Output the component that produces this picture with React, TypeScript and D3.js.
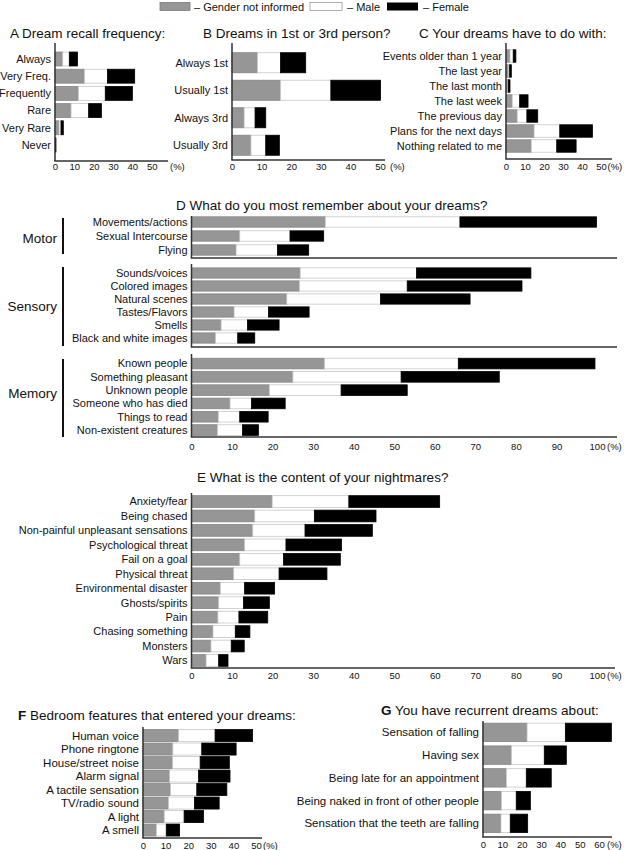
import React, { useEffect, useRef } from 'react';
import * as d3 from 'd3';

const FONT = '"Liberation Sans", Arial, Helvetica, sans-serif';

// A Dream recall frequency
const recallCats = ['Always', 'Very Freq.', 'Frequently', 'Rare', 'Very Rare', 'Never'];
const recallGni = [4.0, 15.2, 12.1, 8.3, 2.1, 0.2];
const recallMale = [3.4, 11.9, 13.9, 9.1, 1.0, 0.1];
const recallFemale = [4.2, 14.1, 14.0, 6.6, 1.2, 0.2];

// B Dreams in 1st or 3rd person
const personCats = ['Always 1st', 'Usually 1st', 'Always 3rd', 'Usually 3rd'];
const personGni = [8.6, 16.4, 4.1, 6.4];
const personMale = [7.8, 17.0, 3.7, 5.0];
const personFemale = [8.5, 16.8, 3.6, 4.6];

// C Your dreams have to do with
const timeCats = ['Events older than 1 year', 'The last year', 'The last month', 'The last week', 'The previous day', 'Plans for the next days', 'Nothing related to me'];
const timeGni = [2.1, 1.4, 0.9, 3.3, 5.9, 14.8, 13.3];
const timeMale = [1.7, 0.5, 0.3, 3.9, 5.1, 13.5, 13.4];
const timeFemale = [1.4, 0.9, 0.9, 4.4, 5.7, 17.2, 10.2];

// D What do you most remember
const motorCats = ['Movements/actions', 'Sexual Intercourse', 'Flying'];
const motorGni = [33.0, 11.9, 11.0];
const motorMale = [33.2, 12.4, 10.2];
const motorFemale = [33.7, 8.3, 7.7];

const sensoryCats = ['Sounds/voices', 'Colored images', 'Natural scenes', 'Tastes/Flavors', 'Smells', 'Black and white images'];
const sensoryGni = [26.8, 26.6, 23.5, 10.5, 7.3, 5.9];
const sensoryMale = [28.7, 26.6, 23.1, 8.5, 6.5, 5.5];
const sensoryFemale = [28.2, 28.3, 22.1, 10.0, 7.8, 4.2];

const memoryCats = ['Known people', 'Something pleasant', 'Unknown people', 'Someone who has died', 'Things to read', 'Non-existent creatures'];
const memoryGni = [32.8, 25.0, 19.2, 9.5, 6.6, 6.4];
const memoryMale = [33.0, 26.7, 17.7, 5.3, 5.3, 6.2];
const memoryFemale = [33.7, 24.2, 16.3, 8.3, 7.0, 3.9];

// E Nightmares
const nightCats = ['Anxiety/fear', 'Being chased', 'Non-painful unpleasant sensations', 'Psychological threat', 'Fail on a goal', 'Physical threat', 'Environmental disaster', 'Ghosts/spirits', 'Pain', 'Chasing something', 'Monsters', 'Wars'];
const nightGni = [19.9, 15.6, 15.1, 13.1, 11.9, 10.4, 7.1, 6.7, 6.5, 5.3, 4.8, 3.6];
const nightMale = [18.9, 14.7, 12.9, 10.2, 10.8, 11.2, 6.0, 6.1, 5.2, 5.5, 5.0, 3.1];
const nightFemale = [22.4, 15.2, 16.6, 13.7, 14.0, 11.8, 7.4, 6.4, 7.1, 3.6, 3.2, 2.3];

// F Bedroom features
const bedCats = ['Human voice', 'Phone ringtone', 'House/street noise', 'Alarm signal', 'A tactile sensation', 'TV/radio sound', 'A light', 'A smell'];
const bedGni = [15.7, 13.2, 13.1, 11.8, 12.2, 11.3, 9.4, 5.9];
const bedMale = [16.2, 12.8, 12.2, 12.8, 11.6, 11.5, 8.8, 4.4];
const bedFemale = [16.6, 15.2, 12.9, 13.9, 13.3, 10.9, 8.6, 5.9];

// G Recurrent dreams
const recurCats = ['Sensation of falling', 'Having sex', 'Being late for an appointment', 'Being naked in front of other people', 'Sensation that the teeth are falling'];
const recurGni = [22.8, 14.7, 12.1, 9.5, 9.3];
const recurMale = [19.8, 17.0, 10.3, 7.7, 4.8];
const recurFemale = [23.8, 11.4, 12.9, 7.3, 9.0];

const ticks50 = [0, 10, 20, 30, 40, 50];
const ticks60 = [0, 10, 20, 30, 40, 50, 60];
const ticks100 = d3.range(0, 101, 10);

const fills = ['#969696', '#ffffff', '#000000'];
const strokes = ['#858585', '#c8c8c8', '#000000'];
const keys = ['gni', 'male', 'female'];

const drawPanel = (root, p) => {
  const g = root.append('g');
  const x = d3.scaleLinear().domain([0, p.max]).range([p.x0, p.x1]);
  const y = d3
    .scaleBand()
    .domain(p.cats)
    .range([p.y0, p.y1])
    .paddingInner(p.pad)
    .paddingOuter(p.pad / 2);

  const rows = p.cats.map((c, i) => ({ cat: c, gni: p.gni[i], male: p.male[i], female: p.female[i] }));
  const layers = d3.stack().keys(keys)(rows);

  g.selectAll('.layer')
    .data(layers)
    .join('g')
    .attr('class', 'layer')
    .attr('fill', (d, i) => fills[i])
    .attr('stroke', (d, i) => strokes[i])
    .attr('stroke-width', 0.8)
    .selectAll('rect')
    .data(d => d)
    .join('rect')
    .attr('x', d => x(d[0]))
    .attr('width', d => Math.max(0, x(d[1]) - x(d[0])))
    .attr('y', d => y(d.data.cat))
    .attr('height', y.bandwidth());

  g.selectAll('.cat')
    .data(p.cats)
    .join('text')
    .attr('class', 'cat')
    .attr('x', p.x0 - 4)
    .attr('y', d => y(d) + y.bandwidth() / 2)
    .attr('dy', '0.35em')
    .attr('text-anchor', 'end')
    .attr('font-size', p.fontSize || 11)
    .attr('fill', '#111')
    .text(d => d);

  g.append('line')
    .attr('x1', p.x0).attr('x2', p.x0)
    .attr('y1', p.top).attr('y2', p.bottom)
    .attr('stroke', '#333').attr('stroke-width', 1.5);
  g.append('line')
    .attr('x1', p.x0 - 0.75).attr('x2', p.right)
    .attr('y1', p.bottom).attr('y2', p.bottom)
    .attr('stroke', '#333').attr('stroke-width', 1.5);

  if (p.ticks) {
    const axis = d3.axisBottom(x).tickValues(p.ticks).tickSize(0).tickPadding(0).tickFormat(d3.format('d'));
    const ag = g.append('g').attr('transform', `translate(0, ${p.tickY - 3.4})`).call(axis);
    ag.select('.domain').remove();
    ag.selectAll('text').attr('font-size', 9.5).attr('font-family', FONT).attr('fill', '#111');
    g.append('text')
      .attr('x', p.pctX)
      .attr('y', p.tickY + 3.4)
      .attr('font-size', 9.5)
      .attr('fill', '#111')
      .text('(%)');
  }
};

const App = () => {
  const ref = useRef(null);

  useEffect(() => {
    const svg = d3.select(ref.current);
    svg.selectAll('*').remove();
    svg.attr('font-family', FONT);

    // legend
    const leg = svg.append('g').attr('font-size', 11).attr('fill', '#111');
    leg.append('rect').attr('x', 160).attr('y', 2.5).attr('width', 30).attr('height', 8).attr('fill', fills[0]).attr('stroke', '#7a7a7a').attr('stroke-width', 0.8);
    leg.append('text').attr('x', 194).attr('y', 10.5).text('\u2013 Gender not informed');
    leg.append('rect').attr('x', 310).attr('y', 2.5).attr('width', 32).attr('height', 8).attr('fill', '#fff').attr('stroke', '#999').attr('stroke-width', 0.8);
    leg.append('text').attr('x', 347).attr('y', 10.5).text('\u2013 Male');
    leg.append('rect').attr('x', 387).attr('y', 2.5).attr('width', 31).attr('height', 8).attr('fill', '#000');
    leg.append('text').attr('x', 423).attr('y', 10.5).text('\u2013 Female');

    // titles
    const titles = [
      { b: 'A', t: ' Dream recall frequency:', x: 10, y: 38, bold: false },
      { b: 'B', t: ' Dreams in 1st or 3rd person?', x: 203, y: 38, bold: false },
      { b: 'C', t: ' Your dreams have to do with:', x: 419, y: 38, bold: false },
      { b: 'D', t: ' What do you most remember about your dreams?', x: 176, y: 210, bold: false },
      { b: 'E', t: ' What is the content of your nightmares?', x: 197, y: 482, bold: false },
      { b: 'F', t: ' Bedroom features that entered your dreams:', x: 18, y: 720, bold: true },
      { b: 'G', t: ' You have recurrent dreams about:', x: 381, y: 715, bold: true }
    ];
    titles.forEach(d => {
      const t = svg.append('text').attr('x', d.x).attr('y', d.y).attr('font-size', 13.5).attr('fill', '#111');
      t.append('tspan').attr('font-weight', d.bold ? 'bold' : 'normal').text(d.b);
      t.append('tspan').text(d.t);
    });

    drawPanel(svg, {
      cats: recallCats, gni: recallGni, male: recallMale, female: recallFemale,
      max: 50, x0: 55, x1: 151.7, y0: 50.4, y1: 153.6, pad: 0.19,
      top: 43, bottom: 161, right: 168, ticks: ticks50, tickY: 167, pctX: 170
    });
    drawPanel(svg, {
      cats: personCats, gni: personGni, male: personMale, female: personFemale,
      max: 50, x0: 232, x1: 380, y0: 49, y1: 159, pad: 0.27,
      top: 43, bottom: 160, right: 385, ticks: ticks50, tickY: 167, pctX: 390
    });
    drawPanel(svg, {
      cats: timeCats, gni: timeGni, male: timeMale, female: timeFemale,
      max: 50, x0: 506, x1: 601, y0: 48.5, y1: 153.5, pad: 0.17,
      top: 43, bottom: 159, right: 612, ticks: ticks50, tickY: 167, pctX: 607.5
    });

    // D groups
    drawPanel(svg, {
      cats: motorCats, gni: motorGni, male: motorMale, female: motorFemale,
      max: 100, x0: 191.5, x1: 597, y0: 215, y1: 257, pad: 0.26,
      top: 216, bottom: 258, right: 617
    });
    drawPanel(svg, {
      cats: sensoryCats, gni: sensoryGni, male: sensoryMale, female: sensoryFemale,
      max: 100, x0: 191.5, x1: 597, y0: 266.5, y1: 344.5, pad: 0.21,
      top: 264, bottom: 347, right: 617
    });
    drawPanel(svg, {
      cats: memoryCats, gni: memoryGni, male: memoryMale, female: memoryFemale,
      max: 100, x0: 191.5, x1: 597, y0: 356.9, y1: 436.7, pad: 0.2,
      top: 354, bottom: 437, right: 617, ticks: ticks100, tickY: 447, pctX: 607
    });

    const groups = [
      { name: 'Motor', y: 238, y1: 218, y2: 254 },
      { name: 'Sensory', y: 306, y1: 267, y2: 346 },
      { name: 'Memory', y: 393, y1: 359, y2: 437 }
    ];
    groups.forEach(d => {
      svg.append('text').attr('x', 57).attr('y', d.y).attr('dy', '0.35em').attr('text-anchor', 'end')
        .attr('font-size', 13.5).attr('fill', '#111').text(d.name);
      svg.append('line').attr('x1', 63).attr('x2', 63).attr('y1', d.y1).attr('y2', d.y2)
        .attr('stroke', '#111').attr('stroke-width', 2);
    });

    drawPanel(svg, {
      cats: nightCats, gni: nightGni, male: nightMale, female: nightFemale,
      max: 100, x0: 191.5, x1: 597, y0: 494.3, y1: 667.7, pad: 0.19,
      top: 493, bottom: 668, right: 615, ticks: ticks100, tickY: 676, pctX: 607
    });
    drawPanel(svg, {
      cats: bedCats, gni: bedGni, male: bedMale, female: bedFemale,
      max: 50, x0: 143, x1: 256, y0: 728.8, y1: 836.8, pad: 0.11,
      top: 727, bottom: 838, right: 262, ticks: ticks50, tickY: 846, pctX: 263, fontSize: 11.5
    });
    drawPanel(svg, {
      cats: recurCats, gni: recurGni, male: recurMale, female: recurFemale,
      max: 60, x0: 483, x1: 599, y0: 721, y1: 834.75, pad: 0.19,
      top: 721, bottom: 837, right: 612, ticks: ticks60, tickY: 845, pctX: 607, fontSize: 11.5
    });
  }, []);

  return (
    <svg
      ref={ref}
      width={624}
      height={850}
      style={{ position: 'absolute', left: 0, top: 0, background: '#fff' }}
    />
  );
};

export default App;
